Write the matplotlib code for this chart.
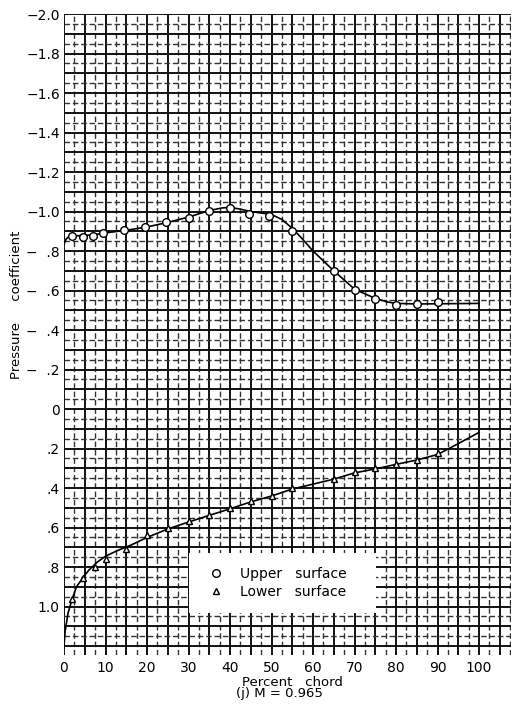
import matplotlib
matplotlib.use("Agg")
import matplotlib.pyplot as plt
import numpy as np
from matplotlib.patches import Rectangle

# measured points (percent chord, pressure coefficient)
upper_x = [2, 4.5, 7, 9.5, 14.5, 19.5, 24.5, 30, 35, 40, 44.5, 49.5, 55, 65, 70, 75, 80, 85, 90]
upper_cp = [-0.875, -0.873, -0.877, -0.89, -0.908, -0.922, -0.948, -0.969, -1.004, -1.018,
            -0.985, -0.975, -0.903, -0.70, -0.604, -0.557, -0.527, -0.533, -0.54]

lower_x = [2, 4.5, 7.5, 10, 15, 20, 25, 30, 35, 40, 45, 50, 55, 65, 70, 75, 80, 85, 90]
lower_cp = [0.962, 0.857, 0.797, 0.76, 0.709, 0.64, 0.603, 0.569, 0.537, 0.503, 0.467,
            0.439, 0.398, 0.354, 0.317, 0.30, 0.278, 0.257, 0.223]

# faired curves as drawn on the sheet
upper_fair_x = [0, 0.5, 1, 2, 4, 7, 10, 15, 20, 25, 30, 35, 38, 40, 42.5, 45, 50, 52.5, 55,
                57.5, 60, 62.5, 65, 70, 75, 78, 80, 85, 90, 100]
upper_fair_cp = [-0.835, -0.86, -0.87, -0.876, -0.878, -0.882, -0.892, -0.905, -0.922, -0.945,
                 -0.972, -1.005, -1.018, -1.021, -1.012, -1.0, -0.985, -0.96, -0.915,
                 -0.86, -0.80, -0.75, -0.70, -0.607, -0.56, -0.542, -0.535, -0.532, -0.533, -0.535]

lower_fair_x = [0, 0.3, 1, 2, 3, 4.5, 6, 8, 10, 13, 16, 20, 25, 30, 35, 40, 45, 50, 55, 60,
                65, 70, 75, 80, 85, 90, 95, 100]
lower_fair_cp = [1.2, 1.12, 1.03, 0.96, 0.90, 0.855, 0.815, 0.775, 0.745, 0.715, 0.69, 0.65,
                 0.607, 0.572, 0.538, 0.505, 0.47, 0.44, 0.405, 0.38, 0.355, 0.323, 0.303,
                 0.28, 0.258, 0.23, 0.175, 0.118]

x_ticks = [0, 10, 20, 30, 40, 50, 60, 70, 80, 90, 100]
y_ticks = [-2.0, -1.8, -1.6, -1.4, -1.2, -1.0, -0.8, -0.6, -0.4, -0.2, 0, 0.2, 0.4, 0.6, 0.8, 1.0]
y_labels = ["\u22122.0", "\u22121.8", "\u22121.6", "\u22121.4", "\u22121.2", "\u22121.0",
            "\u2212  .8", "\u2212  .6", "\u2212  .4", "\u2212  .2", "0",
            ".2", ".4", ".6", ".8", "1.0"]

fig = plt.figure(figsize=(5.14, 7.04), dpi=100)
ax = fig.add_axes([64 / 514, 49 / 704, 447 / 514, 641 / 704])
ax.set_xlim(0, 107.7)
ax.set_ylim(1.245, -2.0)

# graph paper
for gx in np.arange(0, 107.6, 2.5):
    if round(gx / 2.5) % 2 == 0:
        ax.axvline(gx, color="#111111", lw=1.4, zorder=1)
    else:
        ax.axvline(gx, color="#333333", lw=1.0, ls=(0, (4, 2)), zorder=1)
for gy in np.arange(-2.0, 1.26, 0.05):
    if round(gy / 0.05) % 2 == 0:
        ax.axhline(gy, color="#111111", lw=1.4, zorder=1)
    else:
        ax.axhline(gy, color="#333333", lw=1.0, ls=(0, (4, 2)), zorder=1)

for s in ax.spines.values():
    s.set_visible(False)

ax.plot(upper_fair_x, upper_fair_cp, color="black", lw=1.2, zorder=4)
ax.plot(lower_fair_x, lower_fair_cp, color="black", lw=1.2, zorder=4)
ax.plot(upper_x, upper_cp, "o", ms=5.5, mfc="white", mec="black", mew=1.0, zorder=5,
        label="Upper   surface")
ax.plot(lower_x, lower_cp, "^", ms=4.5, mfc="white", mec="black", mew=1.0, zorder=5,
        label="Lower   surface")

# blank patch where the key sits
ax.add_patch(Rectangle((0.28, 0.0655), 0.418, 0.094, transform=ax.transAxes,
                       facecolor="white", edgecolor="none", zorder=6))
leg = ax.legend(loc="center left", bbox_to_anchor=(0.31, 0.112), frameon=False,
                fontsize=10, handlelength=1.0, handletextpad=1.2, labelspacing=0.3,
                borderpad=0)
leg.set_zorder(7)

ax.set_xticks(x_ticks)
ax.set_xticklabels([str(t) for t in x_ticks], fontsize=10)
ax.set_yticks(y_ticks)
ax.set_yticklabels(y_labels, fontsize=10)
ax.tick_params(length=0, pad=3)
ax.tick_params(axis="x", pad=4)

fig.text(17 / 514, 1 - 305 / 704, "Pressure     coefficient", rotation=90,
         ha="center", va="center", fontsize=9.5)
fig.text(292 / 514, 1 - 682 / 704, "Percent   chord", ha="center", va="center", fontsize=9.5)
fig.text(279 / 514, 1 - 694 / 704, "(j) M = 0.965", ha="center", va="center", fontsize=9.5)

fig.savefig("out.png", dpi=100)
